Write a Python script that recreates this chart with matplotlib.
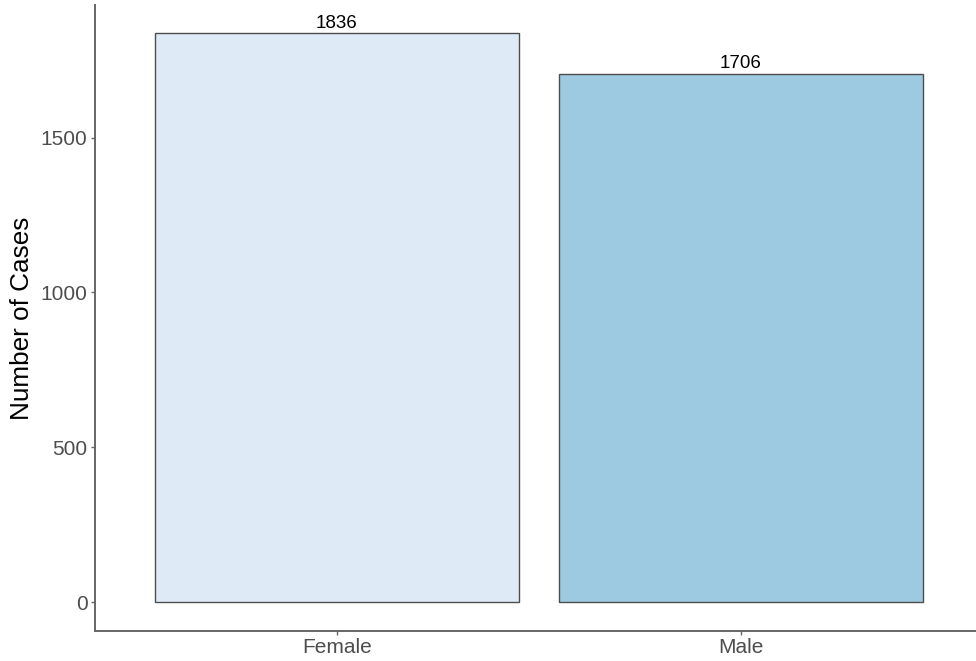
import matplotlib

matplotlib.use("Agg")
import matplotlib.pyplot as plt

plt.rcParams["font.family"] = ["Liberation Sans", "DejaVu Sans"]

# data
sexes = ["Female", "Male"]
cases = [1836, 1706]
fills = ["#DEEBF7", "#9ECAE1"]

fig = plt.figure(figsize=(9.76, 6.61), dpi=100)
ax = fig.add_axes([94.5 / 976, 30.3 / 661, (983.4 - 94.5) / 976, (656 - 30.3) / 661])

x = [1, 2]
ax.bar(x, cases, 0.9, color=fills, edgecolor="#4D4D4D", linewidth=1.0)

for xi, v in zip(x, cases):
    ax.annotate(str(v), (xi, v), xytext=(0, 1.0), textcoords="offset points",
                ha="center", va="bottom", fontsize=13.5, color="black")

top = max(cases)
ax.set_xlim(0.4, 2.6)
ax.set_ylim(-0.05 * top, top * 1.05)
ax.set_xticks(x, sexes)
ax.set_yticks([0, 500, 1000, 1500])
ax.set_ylabel("Number of Cases", fontsize=18.8, color="black", labelpad=5)

for s in ["top", "right"]:
    ax.spines[s].set_visible(False)
for s in ["left", "bottom"]:
    ax.spines[s].set_color("#666666")
    ax.spines[s].set_linewidth(1.4)
ax.tick_params(axis="both", colors="#666666", labelcolor="#4D4D4D",
               labelsize=15, length=3, width=1.0, pad=2)

fig.savefig("out.png", dpi=100)
